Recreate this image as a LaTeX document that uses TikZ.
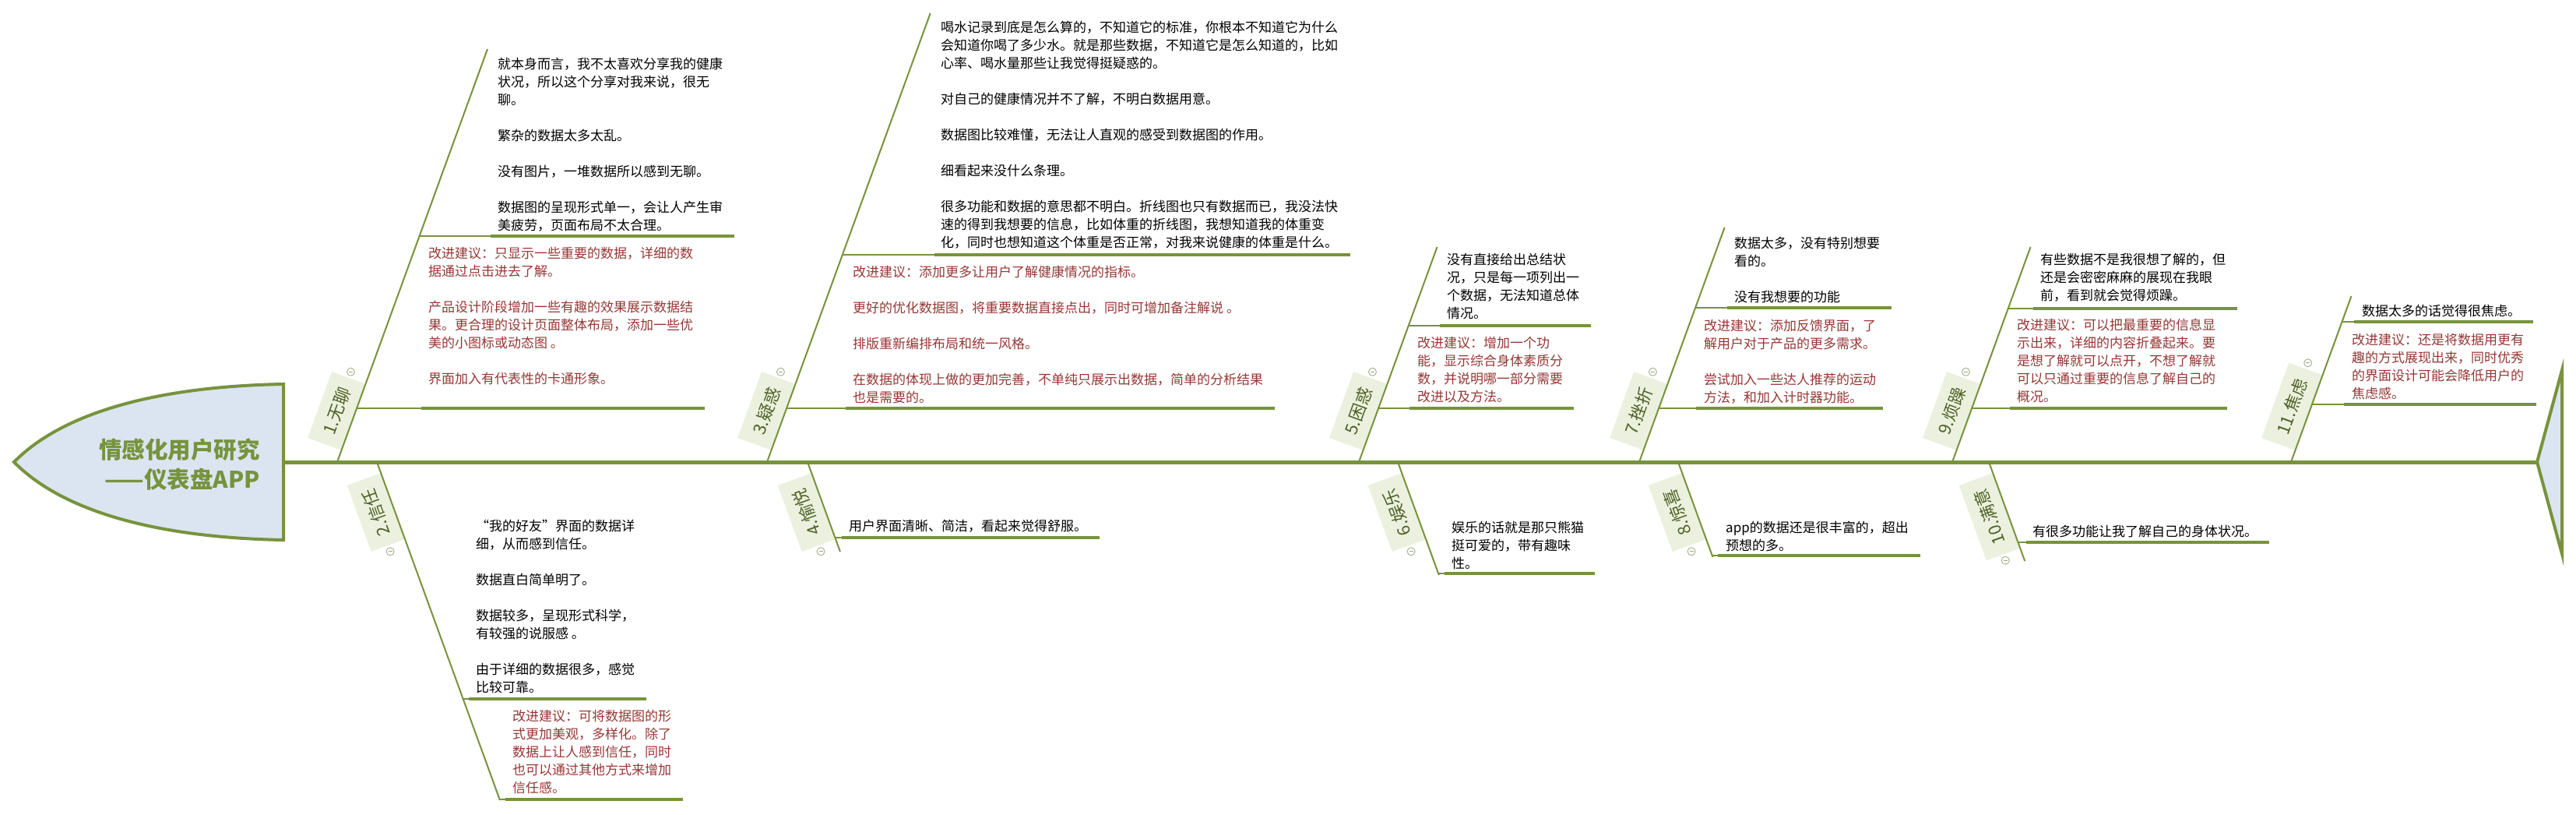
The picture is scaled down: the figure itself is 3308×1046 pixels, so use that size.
\documentclass[tikz,border=0pt]{standalone}
\usepackage{fontspec}
\setmainfont{Noto Sans CJK SC}
\usetikzlibrary{calc}
\definecolor{olive}{HTML}{77933C}
\definecolor{headfill}{HTML}{DBE5F1}
\definecolor{lblfill}{HTML}{EBF1DE}
\definecolor{lbltext}{HTML}{4F6228}
\definecolor{redtxt}{HTML}{953735}
\definecolor{foldc}{HTML}{9AA67E}
\tikzset{
  spine/.style={draw=olive, line width=5pt},
  bone/.style={draw=olive, line width=2pt},
  twig/.style={draw=olive, line width=1.3pt},
  uline/.style={draw=olive, line width=3.3pt},
  txt/.style={anchor=north west, inner sep=0pt, align=left, font=\fontsize{17}{23}\selectfont},
  blk/.style={txt, text=black},
  sug/.style={txt, text=redtxt},
  lbl/.style={fill=lblfill, text=lbltext, font=\fontsize{22}{22}\selectfont, inner xsep=14pt, inner ysep=0pt, minimum height=46pt},
  lblup/.style={lbl, rotate=70, anchor=south west},
  lbldn/.style={lbl, rotate=110, anchor=south east},
  fold/.style={circle, draw=foldc, fill=white, line width=0.8pt, minimum size=10pt, inner sep=0pt,
    path picture={\draw[foldc, line width=0.8pt] ([xshift=2.5pt]path picture bounding box.west) -- ([xshift=-2.5pt]path picture bounding box.east);}},
  headtxt/.style={anchor=east, inner sep=0pt, align=right, text=olive, font=\bfseries\fontsize{29.5}{38}\selectfont},
  fish/.style={draw=olive, line width=4pt, fill=headfill, line join=miter},
}
\begin{document}
\begin{tikzpicture}[x=1pt, y=-1pt]
\useasboundingbox (0,0) rectangle (3308,1046);
\fill[white] (0,0) rectangle (3308,1046);

% head and tail
\path[fish] (364,493) .. controls (200,496) and (80,530) .. (18,593) .. controls (80,656) and (200,690) .. (364,693) -- cycle;
\path[fish] (3258,593) -- (3290,475) -- (3290,711) -- cycle;
\node[headtxt] (title) at (334,596) {情感化用户研究\\——仪表盘APP};

% spine
\coordinate (headR) at (364,593);
\coordinate (tailL) at (3258,593);
\draw[spine] (headR) -- (tailL);

% labels
\node[lblup] (L1) at (438.5,578) {1.无聊};
\node[lbldn] (L2) at (489.1,607) {2.信任};
\node[lblup] (L3) at (990.5,578) {3.疑惑};
\node[lbldn] (L4) at (1042.1,607) {4.愉悦};
\node[lblup] (L5) at (1750.5,578) {5.困惑};
\node[lbldn] (L6) at (1800.1,607) {6.娱乐};
\node[lblup] (L7) at (2110.5,578) {7.挫折};
\node[lbldn] (L8) at (2160.1,607) {8.惊喜};
\node[lblup] (L9) at (2512.5,578) {9.烦躁};
\node[lbldn] (L10) at (2559.1,607) {10.满意};
\node[lblup] (L11) at (2947.5,578) {11.焦虑};

% diagonal bones
\coordinate (s1) at (433,593);   \coordinate (t1) at (626,63);
\coordinate (s2) at (484,593);   \coordinate (t2) at (642,1027);
\coordinate (s3) at (985,593);   \coordinate (t3) at (1194.7,17);
\coordinate (s4) at (1037,593);  \coordinate (t4) at (1078.9,708);
\coordinate (s5) at (1745,593);  \coordinate (t5) at (1845.5,317);
\coordinate (s6) at (1795,593);  \coordinate (t6) at (1847.8,738);
\coordinate (s7) at (2105,593);  \coordinate (t7) at (2214.6,292);
\coordinate (s8) at (2155,593);  \coordinate (t8) at (2199.4,715);
\coordinate (s9) at (2507,593);  \coordinate (t9) at (2607.5,317);
\coordinate (s10) at (2554,593); \coordinate (t10) at (2600.2,720);
\coordinate (s11) at (2942,593); \coordinate (t11) at (3019.5,380);
\foreach \i in {1,...,11} { \draw[bone] (s\i) -- (t\i); }

% sub-branch underlines: diag point, thick start, thick end
\foreach \n/\d/\m/\e/\y in {
  b1a/538.6/630/943/303, b1b/458.1/541/905/524,
  b2a/594.7/602/830/897, b2b/641.6/649/877/1026,
  b3a/1081.8/1200/1734/327, b3b/1010.1/1086/1637/524,
  b4a/1072.3/1081/1412/690,
  b5a/1808.7/1849/2043/418, b5b/1770.1/1810/2021/524,
  b6a/1847/1855/2048/736,
  b7a/2177.1/2218/2429/395, b7b/2130.1/2178/2418/524,
  b8a/2198.7/2206/2466/713,
  b9a/2578.7/2611/2873/396, b9b/2532.1/2581/2860/524,
  b10a/2591.5/2602/2914/696,
  b11a/3007.5/3023/3253/413, b11b/2968.9/3010/3257/519} {
  \coordinate (\n-d) at (\d,\y);
  \coordinate (\n-m) at (\m,\y);
  \coordinate (\n-e) at (\e,\y);
  \draw[twig] (\n-d) -- (\n-m);
  \draw[uline] (\n-m) -- (\n-e);
}

% texts
\node[blk] (T1a) at (639,72.4) {\strut 就本身而言，我不太喜欢分享我的健康\\状况，所以这个分享对我来说，很无\\聊。\\[23pt]繁杂的数据太多太乱。\\[23pt]没有图片，一堆数据所以感到无聊。\\[23pt]数据图的呈现形式单一，会让人产生审\\美疲劳，页面布局不太合理。};
\node[sug] (T1b) at (550,315.4) {\strut 改进建议：只显示一些重要的数据，详细的数\\据通过点击进去了解。\\[23pt]产品设计阶段增加一些有趣的效果展示数据结\\果。更合理的设计页面整体布局，添加一些优\\美的小图标或动态图 。\\[23pt]界面加入有代表性的卡通形象。};
\node[blk] (T2a) at (611,665.4) {\strut “我的好友”界面的数据详\\细，从而感到信任。\\[23pt]数据直白简单明了。\\[23pt]数据较多，呈现形式科学，\\有较强的说服感 。\\[23pt]由于详细的数据很多，感觉\\比较可靠。};
\node[sug] (T2b) at (658,909.4) {\strut 改进建议：可将数据图的形\\式更加美观，多样化。除了\\数据上让人感到信任，同时\\也可以通过其他方式来增加\\信任感。};
\node[blk] (T3a) at (1208,25.4) {\strut 喝水记录到底是怎么算的，不知道它的标准，你根本不知道它为什么\\会知道你喝了多少水。就是那些数据，不知道它是怎么知道的，比如\\心率、喝水量那些让我觉得挺疑惑的。\\[23pt]对自己的健康情况并不了解，不明白数据用意。\\[23pt]数据图比较难懂，无法让人直观的感受到数据图的作用。\\[23pt]细看起来没什么条理。\\[23pt]很多功能和数据的意思都不明白。折线图也只有数据而已，我没法快\\速的得到我想要的信息，比如体重的折线图，我想知道我的体重变\\化，同时也想知道这个体重是否正常，对我来说健康的体重是什么。};
\node[sug] (T3b) at (1095,339.4) {\strut 改进建议：添加更多让用户了解健康情况的指标。\\[23pt]更好的优化数据图，将重要数据直接点出，同时可增加备注解说 。\\[23pt]排版重新编排布局和统一风格。\\[23pt]在数据的体现上做的更加完善，不单纯只展示出数据，简单的分析结果\\也是需要的。};
\node[blk] (T4a) at (1090,665.4) {\strut 用户界面清晰、简洁，看起来觉得舒服。};
\node[blk] (T5a) at (1858,323.4) {\strut 没有直接给出总结状\\况，只是每一项列出一\\个数据，无法知道总体\\情况。};
\node[sug] (T5b) at (1820,430.4) {\strut 改进建议：增加一个功\\能，显示综合身体素质分\\数，并说明哪一部分需要\\改进以及方法。};
\node[blk] (T6a) at (1864,667.4) {\strut 娱乐的话就是那只熊猫\\挺可爱的，带有趣味\\性。};
\node[blk] (T7a) at (2227,302.4) {\strut 数据太多，没有特别想要\\看的。\\[23pt]没有我想要的功能};
\node[sug] (T7b) at (2188,408.4) {\strut 改进建议：添加反馈界面，了\\解用户对于产品的更多需求。\\[23pt]尝试加入一些达人推荐的运动\\方法，和加入计时器功能。};
\node[blk] (T8a) at (2216,667.4) {\strut app的数据还是很丰富的，超出\\预想的多。};
\node[blk] (T9a) at (2620,323.4) {\strut 有些数据不是我很想了解的，但\\还是会密密麻麻的展现在我眼\\前，看到就会觉得烦躁。};
\node[sug] (T9b) at (2590,407.4) {\strut 改进建议：可以把最重要的信息显\\示出来，详细的内容折叠起来。要\\是想了解就可以点开，不想了解就\\可以只通过重要的信息了解自己的\\概况。};
\node[blk] (T10a) at (2610,672.4) {\strut 有很多功能让我了解自己的身体状况。};
\node[blk] (T11a) at (3033,389.4) {\strut 数据太多的话觉得很焦虑。};
\node[sug] (T11b) at (3020,426.4) {\strut 改进建议：还是将数据用更有\\趣的方式展现出来，同时优秀\\的界面设计可能会降低用户的\\焦虑感。};

% fold markers
\foreach \i in {1,3,5,7,9,11} { \node[fold] (f\i) at ([shift={(70:8pt)}]L\i.east) {}; }
\foreach \i in {2,4,6,8,10} { \node[fold] (f\i) at ([shift={(-70:8pt)}]L\i.west) {}; }
\end{tikzpicture}
\end{document}
